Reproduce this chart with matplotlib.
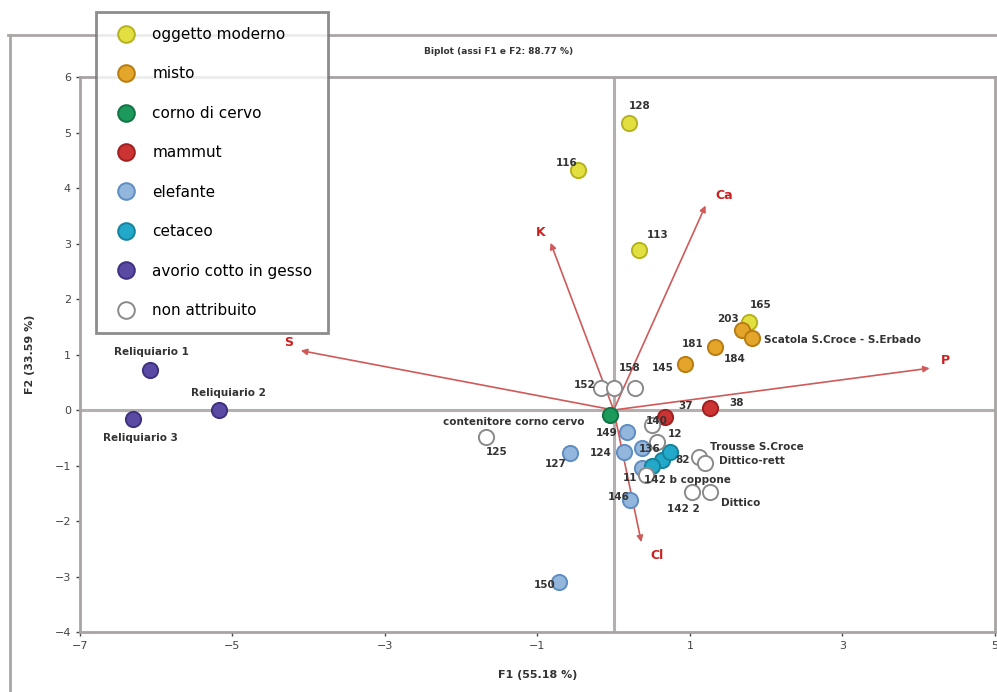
import matplotlib
matplotlib.use("Agg")
import matplotlib.pyplot as plt
from matplotlib.lines import Line2D

# ---------------- data ----------------
groups = ["oggetto moderno", "misto", "corno di cervo", "mammut", "elefante",
          "cetaceo", "avorio cotto in gesso", "non attribuito"]

mod_labels = ["128", "116", "113", "165"]
mod_x = [0.20, -0.47, 0.33, 1.78]
mod_y = [5.17, 4.32, 2.88, 1.59]

mis_labels = ["203", "Scatola S.Croce - S.Erbado", "181", "184"]
mis_x = [1.68, 1.82, 0.93, 1.33]
mis_y = [1.44, 1.30, 0.83, 1.14]

cer_labels = ["contenitore corno cervo"]
cer_x = [-0.05]
cer_y = [-0.09]

mam_labels = ["37", "38"]
mam_x = [0.67, 1.26]
mam_y = [-0.13, 0.04]

ele_labels = ["127", "146", "150", "149", "124", "136", "11"]
ele_x = [-0.57, 0.21, -0.72, 0.17, 0.13, 0.37, 0.37]
ele_y = [-0.77, -1.62, -3.10, -0.40, -0.76, -0.68, -1.05]

cet_labels = ["", "", "82"]
cet_x = [0.63, 0.50, 0.74]
cet_y = [-0.90, -1.01, -0.76]

avo_labels = ["Reliquiario 1", "Reliquiario 2", "Reliquiario 3"]
avo_x = [-6.08, -5.18, -6.30]
avo_y = [0.72, 0.00, -0.16]

non_labels = ["125", "152", "158", "145", "140", "12", "Trousse S.Croce",
              "Dittico-rett", "142 b coppone", "142 2", "Dittico"]
non_x = [-1.68, -0.16, 0.00, 0.28, 0.50, 0.57, 1.12, 1.20, 0.43, 1.03, 1.26]
non_y = [-0.49, 0.40, 0.40, 0.40, -0.27, -0.58, -0.85, -0.95, -1.17, -1.48, -1.48]

var_labels = ["K", "Ca", "S", "P", "Cl"]
var_x = [-0.84, 1.22, -4.14, 4.18, 0.37]
var_y = [3.06, 3.73, 1.08, 0.76, -2.43]

x_ticks = [-7, -5, -3, -1, 1, 3, 5]
y_ticks = [-4, -3, -2, -1, 0, 1, 2, 3, 4, 5, 6]

title = "Biplot (assi F1 e F2: 88.77 %)"
xlabel = "F1 (55.18 %)"
ylabel = "F2 (33.59 %)"

# ---------------- styles ----------------
series = [
    (mod_labels, mod_x, mod_y, "#e2e040", "#b5b21e"),
    (mis_labels, mis_x, mis_y, "#e3a52a", "#b97c10"),
    (cer_labels, cer_x, cer_y, "#1c9a5c", "#137346"),
    (mam_labels, mam_x, mam_y, "#cc3434", "#a02020"),
    (ele_labels, ele_x, ele_y, "#93b6dc", "#5f8dc2"),
    (cet_labels, cet_x, cet_y, "#22a9c9", "#16829d"),
    (avo_labels, avo_x, avo_y, "#5b4aa3", "#3f3180"),
    (non_labels, non_x, non_y, "#ffffff", "#8a8a8a"),
]

# label offsets (points) per series, per point
offsets = [
    [(0, 10), (-16, 3), (6, 9), (0, 10)],
    [(-18, 6), (8, -4), (-2, 12), (6, -11)],
    [(-120, -7)],
    [(10, 6), (14, 1)],
    [(-18, -10), (-16, 0), (-18, -4), (-22, -3), (-24, -3), (-2, -3), (-14, -9)],
    [(0, 0), (0, 0), (4, -8)],
    [(-26, 11), (-20, 10), (-22, -16)],
    [(0, -13), (-20, 0), (4, 12), (12, 12), (-4, 1), (8, 4), (8, 5), (10, -1),
     (-2, -6), (-18, -14), (8, -10)],
]

fig = plt.figure(figsize=(9.97, 6.92), dpi=100)
ax = fig.add_axes([0.0802, 0.0867, 0.9177, 0.802])

ax.set_xlim(-7, 5)
ax.set_ylim(-4, 6)
ax.set_xticks(x_ticks)
ax.set_yticks(y_ticks)
ax.tick_params(labelsize=8, colors="#444444", length=3, width=1)
for s in ax.spines.values():
    s.set_color("#a8a4a4")
    s.set_linewidth(2)

ax.axhline(0, color="#b4b0b0", lw=2.2, zorder=1)
ax.axvline(0, color="#b4b0b0", lw=2.2, zorder=1)

# loadings arrows
for lab, vx, vy in zip(var_labels, var_x, var_y):
    ax.annotate("", xy=(vx, vy), xytext=(0, 0),
                arrowprops=dict(arrowstyle="-|>", color="#d05a5a", lw=1.2,
                                mutation_scale=9), zorder=2)
    ax.annotate(lab, xy=(vx, vy), xytext=(6 if vx > 0 else -10, 3 if vy > 0 else -10),
                textcoords="offset points", color="#cc2020", fontsize=9,
                fontweight="bold", zorder=5)

handles = []
for (labs, xs, ys, fc, ec), offs, name in zip(series, offsets, groups):
    ax.scatter(xs, ys, s=120, facecolor=fc, edgecolor=ec, linewidth=1.4, zorder=4)
    for lab, x, y, off in zip(labs, xs, ys, offs):
        if lab:
            ax.annotate(lab, xy=(x, y), xytext=off, textcoords="offset points",
                        fontsize=7.5, fontweight="bold", color="#333333", zorder=6)
    handles.append(Line2D([], [], marker="o", ls="", markersize=12,
                          markerfacecolor=fc, markeredgecolor=ec, markeredgewidth=1.4))

leg = fig.legend(handles, groups, loc="upper left", bbox_to_anchor=(0.096, 0.983),
                 fontsize=11, labelspacing=1.6, handletextpad=0.7, borderpad=1.0,
                 borderaxespad=0, handlelength=2.0,
                 frameon=True, fancybox=False)
leg.get_frame().set_edgecolor("#707070")
leg.get_frame().set_linewidth(2)
leg.set_zorder(10)

fig.text(0.50, 0.925, title, ha="center", va="center", fontsize=6.5,
         fontweight="bold", color="#333333")
ax.set_xlabel(xlabel, fontsize=8, fontweight="bold", color="#333333", labelpad=14)
ax.set_ylabel(ylabel, fontsize=8, fontweight="bold", color="#333333", labelpad=14)

# outer frame lines
fig.add_artist(Line2D([0.008, 1.0], [0.949, 0.949], transform=fig.transFigure,
                      color="#aaa6a6", lw=2))
fig.add_artist(Line2D([0.010, 0.010], [0.0, 0.949], transform=fig.transFigure,
                      color="#aaa6a6", lw=2))

fig.savefig("out.png", dpi=100)
